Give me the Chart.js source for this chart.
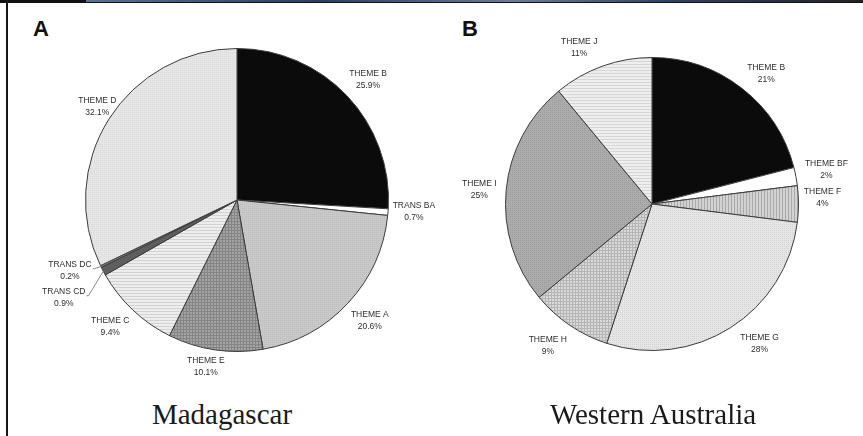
<!DOCTYPE html>
<html>
<head>
<meta charset="utf-8">
<script src="https://cdn.jsdelivr.net/npm/chart.js@4.4.1/dist/chart.umd.min.js"></script>
<style>
body { margin: 0; background: #fff; width: 863px; height: 436px; position: relative; overflow: hidden; }
.band { position: absolute; left: 0; top: 0; width: 863px; height: 3px; background: #111; }
.band2 { position: absolute; left: 86px; top: 0; width: 777px; height: 2px; background: linear-gradient(90deg, #5b6f99, #2c3d6b 30%, #6a7ba0 55%, #33416a 75%, #222 100%); }
.edge { position: absolute; left: 6px; top: 0; width: 2px; height: 436px; background: #151515; }
.panel { position: absolute; font: bold 22px "Liberation Sans", Arial, sans-serif; color: #111; line-height: 22px; }
.title { position: absolute; font: 29px "Liberation Serif", "Times New Roman", serif; color: #1a1a1a; line-height: 30px; white-space: nowrap; transform: translateX(-50%); }
canvas { position: absolute; }
</style>
</head>
<body>
<div class="band"></div>
<div class="band2"></div>
<div class="edge"></div>
<div class="panel" style="left:33px;top:18px">A</div>
<div class="panel" style="left:462px;top:18px">B</div>
<canvas id="mad" width="440" height="390" style="left:0;top:8px"></canvas>
<canvas id="wa" width="423" height="390" style="left:440px;top:10px"></canvas>
<div class="title" style="left:222px;top:399px">Madagascar</div>
<div class="title" style="left:653px;top:399px">Western Australia</div>

<script>
// Madagascar (A)
var madLabels = ['THEME B', 'TRANS BA', 'THEME A', 'THEME E', 'THEME C', 'TRANS CD', 'TRANS DC', 'THEME D'];
var madValues = [25.9, 0.7, 20.6, 10.1, 9.4, 0.9, 0.2, 32.1];

// Western Australia (B)
var waLabels = ['THEME B', 'THEME BF', 'THEME F', 'THEME G', 'THEME H', 'THEME I', 'THEME J'];
var waValues = [21, 2, 4, 28, 9, 25, 11];

// small fill textures like the printed figure
function pattern(bg, fg, kind, step) {
    var c = document.createElement('canvas');
    c.width = step; c.height = step;
    var g = c.getContext('2d');
    g.fillStyle = bg;
    g.fillRect(0, 0, step, step);
    g.fillStyle = fg;
    if (kind === 'h' || kind === 'x') g.fillRect(0, 0, step, 1);
    if (kind === 'v' || kind === 'x') g.fillRect(0, 0, 1, step);
    if (kind === 'd') g.fillRect(0, 0, 1, 1);
    return g.createPattern(c, 'repeat');
}

var madColors = [
    '#0b0b0b',
    '#ffffff',
    pattern('#c9c9c9', '#bdbdbd', 'd', 2),
    pattern('#a3a3a3', '#858585', 'x', 3),
    pattern('#ededed', '#d2d2d2', 'h', 3),
    '#5e5e5e',
    '#8a8a8a',
    pattern('#e6e6e6', '#dadada', 'd', 2)
];
var waColors = [
    '#0b0b0b',
    '#ffffff',
    pattern('#d2d2d2', '#a9a9a9', 'v', 3),
    pattern('#e6e6e6', '#d3d3d3', 'd', 2),
    pattern('#d8d8d8', '#b5b5b5', 'x', 3),
    pattern('#acacac', '#9d9d9d', 'd', 2),
    pattern('#eeeeee', '#d6d6d6', 'h', 3)
];

// label placement: nudge from a point 30px outside the arc, on its middle angle
var madNudge = [[-1, 4], [-4, -3], [0, -3], [-5, -13], [-2, -5], [-13, 12], [-4, -9], [14, 3]];
var madLeader = [null, null, null, null, null, -1.5, -2, null];
var waNudge = [[6, 9], [1, -1], [-6, -6], [13, -9], [-5, -4], [3, 2], [-13, 10]];

var sliceLabels = {
    id: 'sliceLabels',
    afterDraw: function (chart, args, opts) {
        var ctx = chart.ctx;
        var meta = chart.getDatasetMeta(0);
        var values = chart.data.datasets[0].data;
        ctx.save();
        ctx.font = '8.5px "Liberation Sans", Arial, sans-serif';
        ctx.fillStyle = '#2e2e2e';
        ctx.textAlign = 'center';
        ctx.textBaseline = 'middle';
        meta.data.forEach(function (arc, i) {
            var p = arc.getProps(['x', 'y', 'startAngle', 'endAngle', 'outerRadius'], true);
            var mid = (p.startAngle + p.endAngle) / 2;
            var r = p.outerRadius + 30;
            var x = p.x + Math.cos(mid) * r + opts.nudge[i][0];
            var y = p.y + Math.sin(mid) * r + opts.nudge[i][1];
            var name = chart.data.labels[i];
            var pct = values[i].toFixed(opts.decimals) + '%';
            ctx.fillText(name, x, y - 6);
            ctx.fillText(pct, x, y + 6);
            if (opts.leader && opts.leader[i] !== null) {
                var w = ctx.measureText(name).width / 2;
                var sx = x + w + 1, sy = y + opts.leader[i];
                ctx.strokeStyle = '#8a8a8a';
                ctx.lineWidth = 1;
                ctx.beginPath();
                ctx.moveTo(sx, sy);
                ctx.lineTo(sx + 2, sy);
                ctx.lineTo(p.x + Math.cos(mid) * p.outerRadius, p.y + Math.sin(mid) * p.outerRadius);
                ctx.stroke();
            }
        });
        ctx.restore();
    }
};

new Chart(document.getElementById('mad').getContext('2d'), {
    type: 'pie',
    data: {
        labels: madLabels,
        datasets: [{
            data: madValues,
            backgroundColor: madColors,
            borderColor: '#3c3c3c',
            borderWidth: 1,
            hoverBorderWidth: 1
        }]
    },
    options: {
        responsive: false,
        animation: false,
        events: [],
        layout: { padding: { left: 85, right: 51, top: 40, bottom: 46 } },
        plugins: {
            legend: { display: false },
            tooltip: { enabled: false },
            sliceLabels: { nudge: madNudge, leader: madLeader, decimals: 1 }
        }
    },
    plugins: [sliceLabels]
});

new Chart(document.getElementById('wa').getContext('2d'), {
    type: 'pie',
    data: {
        labels: waLabels,
        datasets: [{
            data: waValues,
            backgroundColor: waColors,
            borderColor: '#3c3c3c',
            borderWidth: 1,
            hoverBorderWidth: 1
        }]
    },
    options: {
        responsive: false,
        animation: false,
        events: [],
        layout: { padding: { left: 65, right: 64, top: 47, bottom: 49 } },
        plugins: {
            legend: { display: false },
            tooltip: { enabled: false },
            sliceLabels: { nudge: waNudge, leader: null, decimals: 0 }
        }
    },
    plugins: [sliceLabels]
});
</script>
</body>
</html>
